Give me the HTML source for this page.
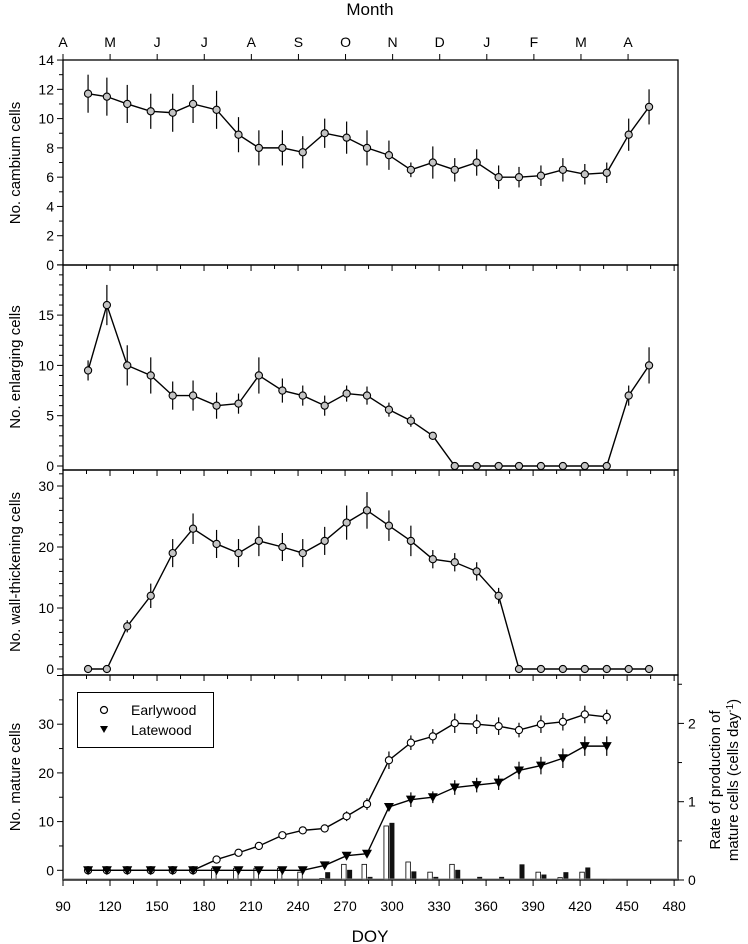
<!DOCTYPE html>
<html><head><meta charset="utf-8">
<style>
html,body{margin:0;padding:0;background:#fff;}
svg{display:block;font-family:"Liberation Sans",sans-serif;}
</style></head>
<body>
<svg id="chart" width="748" height="944" viewBox="0 0 748 944" xmlns="http://www.w3.org/2000/svg">
<text x="370" y="15" font-size="17" text-anchor="middle">Month</text>
<text x="370" y="942" font-size="17" text-anchor="middle">DOY</text>
<text transform="translate(20,163) rotate(-90)" font-size="15" text-anchor="middle">No. cambium cells</text>
<text transform="translate(20,367) rotate(-90)" font-size="15" text-anchor="middle">No. enlarging cells</text>
<text transform="translate(20,572) rotate(-90)" font-size="15" text-anchor="middle">No. wall-thickening cells</text>
<text transform="translate(20,777) rotate(-90)" font-size="15" text-anchor="middle">No. mature cells</text>
<text transform="translate(720,780) rotate(-90)" font-size="15" text-anchor="middle">Rate of production of</text>
<text transform="translate(738,780) rotate(-90)" font-size="15" text-anchor="middle">mature cells (cells day<tspan dy="-5" font-size="10">-1</tspan><tspan dy="5">)</tspan></text>
<g id="g"></g>
<g>
<rect x="77.5" y="692.5" width="136" height="55" fill="#fff" stroke="#000" stroke-width="1"/>
<circle cx="104" cy="710" r="3.5" fill="#fff" stroke="#000" stroke-width="1.2"/>
<path d="M100,726 L108,726 L104,733 Z" fill="#000"/>
<text x="131" y="715" font-size="14">Earlywood</text>
<text x="131" y="735" font-size="14">Latewood</text>
</g>
</svg>
<script>
const doy=[106,118,131,146,160,173,188,202,215,230,243,257,271,284,298,312,326,340,354,368,381,395,409,423,437,451,464];
const cambium=[11.7,11.5,11.0,10.5,10.4,11.0,10.6,8.9,8.0,8.0,7.7,9.0,8.7,8.0,7.5,6.5,7.0,6.5,7.0,6.0,6.0,6.1,6.5,6.2,6.3,8.9,10.8];
const cambiumErr=[1.3,1.3,1.3,1.2,1.3,1.3,1.3,1.2,1.2,1.2,1.1,1.0,1.1,1.2,1.0,0.5,1.1,0.8,0.9,0.8,0.7,0.7,0.8,0.7,0.7,1.1,1.2];
const enlarging=[9.5,16,10,9,7,7,6,6.2,9,7.5,7,6,7.2,7,5.6,4.5,3,0,0,0,0,0,0,0,0,7,10];
const enlargingErr=[1,2,2,1.8,1.4,1.5,1.3,1,1.8,1.2,1,1,0.8,0.9,0.7,0.6,0.3,0,0,0,0,0,0,0,0,1,1.8];
const wall=[0,0,7,12,19,23,20.5,19,21,20,19,21,24,26,23.5,21,18,17.5,16,12,0,0,0,0,0,0,0];
const wallErr=[0,0,1,2,2.3,2.5,2.3,2.3,2.5,2.3,2.3,2.3,2.8,3,2.5,2.5,1.5,1.5,1.5,1.3,0,0,0,0,0,0,0];
const matDoy=[106,118,131,146,160,173,188,202,215,230,243,257,271,284,298,312,326,340,354,368,381,395,409,423,437];
const early=[0,0,0,0,0,0,2.2,3.6,5,7.2,8.2,8.6,11.1,13.6,22.6,26.2,27.5,30.2,30,29.6,28.8,30,30.5,32,31.5];
const earlyErr=[0,0,0,0,0,0,0,0,0,0,0,0,1,1.2,1.8,1.5,1.5,2,2,1.8,1.5,1.8,1.8,1.8,1.5];
const late=[0,0,0,0,0,0,0,0,0,0,0,1,3,3.4,13,14.5,15,17,17.5,18,20.5,21.5,23,25.5,25.5];
const lateErr=[0,0,0,0,0,0,0,0,0,0,0,0,0,0,0,1.5,1.2,1.5,1.5,1.5,1.8,1.8,2,2,2];
const rateEarly=[0,0,0,0,0,0,0.15,0.15,0.15,0.15,0.1,0.02,0.2,0.2,0.69,0.23,0.1,0.2,0,0,0,0.1,0.03,0.1,0];
const rateLate=[0,0,0,0,0,0,0,0,0,0,0,0.1,0.13,0.04,0.73,0.11,0.04,0.13,0.04,0.04,0.2,0.07,0.1,0.16,0.01];
const doyTicks=[90,120,150,180,210,240,270,300,330,360,390,420,450,480];
const months=["A","M","J","J","A","S","O","N","D","J","F","M","A"];

const NS="http://www.w3.org/2000/svg";
const G=document.getElementById('g');
const L=63,R=678;
const X=d=>63+(d-90)*1.567;
function el(t,a,p){const e=document.createElementNS(NS,t);for(const k in a)e.setAttribute(k,a[k]);(p||G).appendChild(e);return e;}
const panels=[
 {top:60,bot:265,y0:265,s:14.64,min:0,max:14,maj:2,minr:1,name:'cambium',lab:[0,2,4,6,8,10,12,14]},
 {top:265,bot:470,y0:466,s:10.06,min:0,max:20,maj:5,minr:1,name:'enlarging',lab:[0,5,10,15]},
 {top:470,bot:675,y0:669,s:6.1,min:0,max:32,maj:10,minr:2,name:'wall',lab:[0,10,20,30]},
 {top:675,bot:880,y0:870.3,s:4.87,min:0,max:40,maj:10,minr:5,name:'mature',lab:[0,10,20,30]}
];
panels.forEach((p,i)=>{
 const Y=v=>p.y0-v*p.s;
 p.Y=Y;
 const fr=el('rect',{x:L,y:p.top,width:R-L,height:p.bot-p.top,fill:'none',stroke:'#000','stroke-width':1.3});
 
 
 for(let v=p.min;v<=p.max+0.001;v+=p.minr){
  const y=Y(v); if(y<p.top-0.5)continue;
  const isMaj=Math.abs(v/p.maj-Math.round(v/p.maj))<1e-6;
  el('line',{x1:L,x2:L-(isMaj?6:4),y1:y,y2:y,stroke:'#000','stroke-width':1});
  if(isMaj && p.lab.indexOf(Math.round(v))>=0){const t=el('text',{x:L-9,y:y+5,'font-size':14,'text-anchor':'end'});t.textContent=Math.round(v);
   }
 }
 if(i>0){for(let d=90;d<=480;d+=15){const maj=(d%30==0);el('line',{x1:X(d),x2:X(d),y1:p.top,y2:p.top+(maj?6:4),stroke:'#000','stroke-width':1});}}
});
for(let d=90;d<=480;d+=15){const maj=(d%30==0);el('line',{x1:X(d),x2:X(d),y1:880,y2:880+(maj?6:4),stroke:'#000','stroke-width':1});}
doyTicks.forEach(d=>{const t=el('text',{x:X(d),y:911,'font-size':14,'text-anchor':'middle'});t.textContent=d;
 });
months.forEach((m,i)=>{const x=X(90+i*30.05);el('line',{x1:x,x2:x,y1:60,y2:54,stroke:'#000','stroke-width':1});
 const t=el('text',{x:x,y:47,'font-size':14,'text-anchor':'middle'});t.textContent=m;
 });
const RY=v=>880-v*78.3;
for(let v=0;v<=2.5;v+=0.5){const y=RY(v);const maj=(v%1==0);el('line',{x1:R,x2:R+(maj?6:4),y1:y,y2:y,stroke:'#000','stroke-width':1});
 if(maj){const t=el('text',{x:R+10,y:y+5,'font-size':14});t.textContent=v;
 }}
matDoy.forEach((d,i)=>{
 if(rateEarly[i]>0){const b=el('rect',{x:X(d)-5,y:RY(rateEarly[i]),width:4.5,height:rateEarly[i]*78.3,fill:'#fff',stroke:'#000','stroke-width':0.8});
  }
 if(rateLate[i]>0){const b=el('rect',{x:X(d)+0.5,y:RY(rateLate[i]),width:5,height:rateLate[i]*78.3,fill:'#111'});
  }
});
el('line',{x1:L,x2:R,y1:879,y2:879,stroke:'#888','stroke-width':1});
function series(xs,vals,errs,p,kind,name){
 const pts=xs.map((d,i)=>[X(d),p.Y(vals[i])]);
 xs.forEach((d,i)=>{if(errs[i]>0){el('line',{x1:X(d),x2:X(d),y1:p.Y(vals[i]+errs[i]),y2:p.Y(vals[i]-errs[i]),stroke:'#000','stroke-width':1.2});}});
 const l=el('polyline',{points:pts.map(q=>q.join(',')).join(' '),fill:'none',stroke:'#000','stroke-width':1.4});
 
 pts.forEach(q=>{let m;
  if(kind=='tri'){m=el('path',{d:`M${q[0]-5},${q[1]-4} L${q[0]+5},${q[1]-4} L${q[0]},${q[1]+5} Z`,fill:'#000'});}
  else m=el('circle',{cx:q[0],cy:q[1],r:3.6,fill:kind=='open'?'#fff':'#c4c4c4',stroke:'#000','stroke-width':1.1});
  });
}
series(doy,cambium,cambiumErr,panels[0],'grey','cambium');
series(doy,enlarging,enlargingErr,panels[1],'grey','enlarging');
series(doy,wall,wallErr,panels[2],'grey','wall-thickening');
series(matDoy,early,earlyErr,panels[3],'open','earlywood');
series(matDoy,late,lateErr,panels[3],'tri','latewood');
</script>
</body></html>
